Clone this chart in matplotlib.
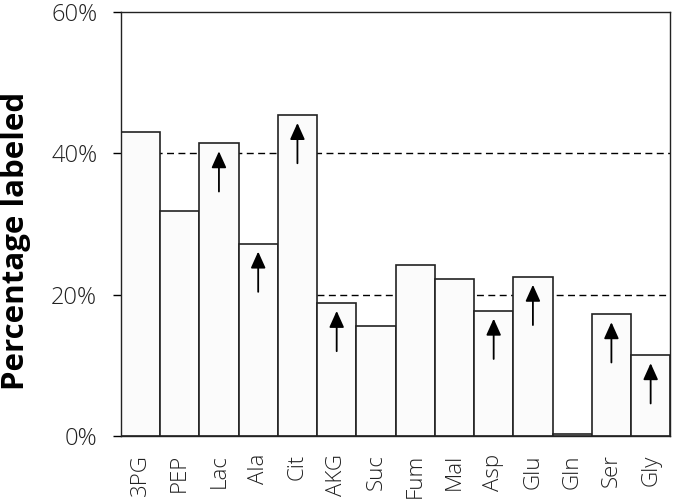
import numpy as np
import matplotlib
matplotlib.use("Agg")
import matplotlib.pyplot as plt

plt.rcParams['font.family'] = ['Open Sans', 'DejaVu Sans']

# data
metabolites = ['3PG', 'PEP', 'Lac', 'Ala', 'Cit', 'AKG', 'Suc',
               'Fum', 'Mal', 'Asp', 'Glu', 'Gln', 'Ser', 'Gly']
labeled = [43.0, 31.9, 41.4, 27.2, 45.4, 18.8, 15.5,
           24.2, 22.2, 17.7, 22.5, 0.25, 17.2, 11.4]
has_arrow = [False, False, True, True, True, True, False,
             False, False, True, True, False, True, True]
ref_levels = [40, 20]          # dashed reference lines
ref_start = [0, 5]             # first bar each line starts at

fig = plt.figure(figsize=(6.75, 5.04), dpi=100)
ax = fig.add_axes([0.179, 0.135, 0.814, 0.841])

x = np.arange(len(metabolites))

# dashed lines sit behind the bars
for lvl, st in zip(ref_levels, ref_start):
    ax.hlines(lvl, st - 0.5, len(metabolites) - 0.5, colors='black',
              linestyles=(0, (5, 3.2)), linewidth=1.0, zorder=1)

ax.bar(x, labeled, width=1.0, color='#fbfbfb', edgecolor='#222222',
       linewidth=1.2, zorder=2)

# up arrows in the bars with increased labeling
for i, (v, a) in enumerate(zip(labeled, has_arrow)):
    if a:
        ax.annotate('', xy=(i, v - 1.1), xytext=(i, v - 6.8),
                    arrowprops=dict(arrowstyle='-|>,head_length=1.0,head_width=0.45',
                                    color='black', lw=1.3, shrinkA=0, shrinkB=0),
                    zorder=3)

ax.set_xlim(-0.5, len(metabolites) - 0.5)
ax.set_ylim(0, 60)
ax.set_yticks([0, 20, 40, 60])
ax.set_yticklabels(['0%', '20%', '40%', '60%'], fontweight='light')
ax.set_xticks(x)
ax.set_xticklabels(metabolites, rotation=90, fontweight='light')
ax.tick_params(axis='x', length=0, pad=13, labelsize=16, labelcolor='#222222')
ax.tick_params(axis='y', length=6, width=1.0, pad=11, labelsize=17,
               labelcolor='#222222')
for s in ax.spines.values():
    s.set_linewidth(1.0)
    s.set_color('#222222')

fig.text(16 / 675, 0.521, 'Percentage labeled', rotation=90, ha='center',
         va='center', fontsize=22.5, fontweight='bold')

fig.savefig('out.png', dpi=100)
